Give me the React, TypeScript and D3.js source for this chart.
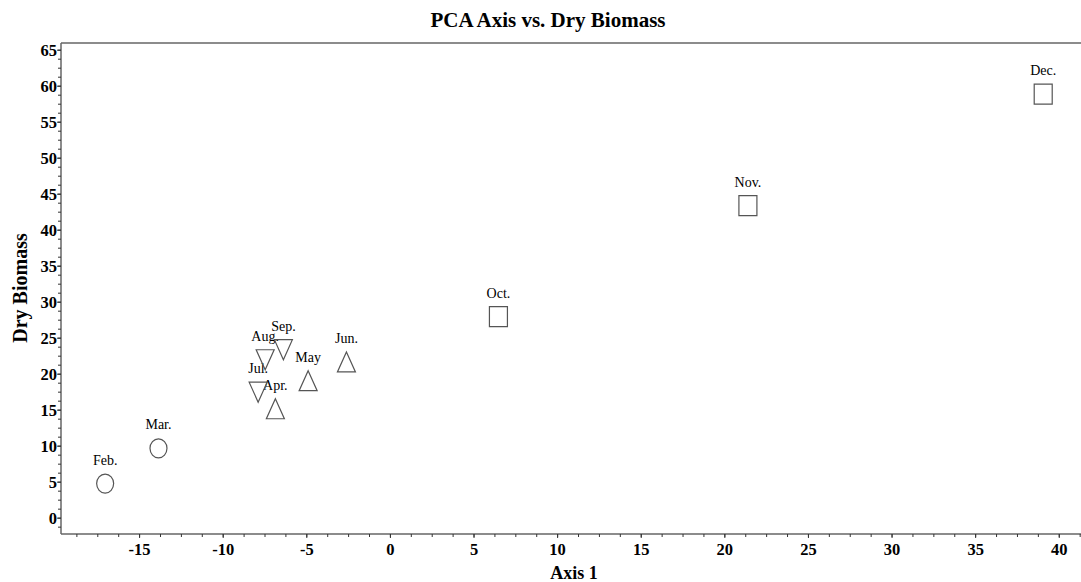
import React from "react";
import * as d3 from "d3";

const months = ["Feb.", "Mar.", "Apr.", "May", "Jun.", "Jul.", "Aug.", "Sep.", "Oct.", "Nov.", "Dec."];
const axis1 = [-17.06, -13.87, -6.88, -4.92, -2.63, -7.91, -7.49, -6.4, 6.46, 21.38, 39.04];
const dryBiomass = [4.8, 9.7, 15.2, 19.1, 21.7, 17.5, 22.0, 23.4, 28.0, 43.4, 58.9];
const shapes = ["circle", "circle", "up", "up", "up", "down", "down", "down", "square", "square", "square"];
const xTicks = [-15, -10, -5, 0, 5, 10, 15, 20, 25, 30, 35, 40];
const yTicks = [0, 5, 10, 15, 20, 25, 30, 35, 40, 45, 50, 55, 60, 65];

const W = 1081;
const H = 582;
const left = 61, right = 1081, top = 43, bottom = 534;

const x = d3.scaleLinear().domain([-19.7, 41.3]).range([left, right]);
const y = d3.scaleLinear().domain([-2.2, 66]).range([bottom, top]);

const xMinor = d3.range(-18.75, 41.26, 1.25);
const yMinor = d3.range(-1.25, 65.01, 1.25);

const serif = "'Liberation Serif', 'Times New Roman', serif";
const stroke = "#555";

function markerPath(shape: string, cx: number, cy: number): string {
  const hw = 9, hh = 10;
  const p = d3.path();
  if (shape === "square") {
    p.rect(cx - hw, cy - hh, hw * 2, hh * 2);
  } else if (shape === "up") {
    p.moveTo(cx, cy - hh);
    p.lineTo(cx + hw, cy + hh);
    p.lineTo(cx - hw, cy + hh);
    p.closePath();
  } else {
    p.moveTo(cx - hw, cy - hh);
    p.lineTo(cx + hw, cy - hh);
    p.lineTo(cx, cy + hh);
    p.closePath();
  }
  return p.toString();
}

export default function App() {
  return (
    <div style={{ position: "absolute", left: 0, top: 0 }}>
      <svg width={W} height={H} style={{ display: "block", background: "#fff" }}>
        <text x={548} y={27} textAnchor="middle" fontFamily={serif} fontWeight="bold" fontSize={21} fill="#000">
          PCA Axis vs. Dry Biomass
        </text>
        {/* frame */}
        <line x1={left} x2={right} y1={top} y2={top} stroke="#666" strokeWidth={1.5} />
        <line x1={left} x2={left} y1={top} y2={bottom} stroke="#666" strokeWidth={1.5} />
        <line x1={left} x2={right} y1={bottom} y2={bottom} stroke="#666" strokeWidth={1.5} />
        {/* x ticks */}
        {xMinor.map((v, i) => (
          <line key={"xm" + i} x1={x(v)} x2={x(v)} y1={bottom} y2={bottom + 3} stroke="#333" strokeWidth={1} />
        ))}
        {xTicks.map((v) => (
          <g key={"xt" + v}>
            <line x1={x(v)} x2={x(v)} y1={bottom} y2={bottom + 4} stroke="#333" strokeWidth={1} />
            <text x={x(v)} y={555} textAnchor="middle" fontFamily={serif} fontWeight="bold" fontSize={16.5} fill="#000">
              {v}
            </text>
          </g>
        ))}
        {/* y ticks */}
        {yMinor.map((v, i) => (
          <line key={"ym" + i} x1={left - 3} x2={left} y1={y(v)} y2={y(v)} stroke="#333" strokeWidth={1} />
        ))}
        {yTicks.map((v) => (
          <g key={"yt" + v}>
            <line x1={left - 4} x2={left} y1={y(v)} y2={y(v)} stroke="#333" strokeWidth={1} />
            <text x={57} y={y(v) + 6} textAnchor="end" fontFamily={serif} fontWeight="bold" fontSize={16.5} fill="#000">
              {v}
            </text>
          </g>
        ))}
        {/* axis titles */}
        <text x={574} y={579} textAnchor="middle" fontFamily={serif} fontWeight="bold" fontSize={18} fill="#000">
          Axis 1
        </text>
        <text
          transform={`translate(27, 288) rotate(-90)`}
          textAnchor="middle"
          fontFamily={serif}
          fontWeight="bold"
          fontSize={20}
          fill="#000"
        >
          Dry Biomass
        </text>
        {/* points */}
        {months.map((m, i) => {
          const cx = x(axis1[i]);
          const cy = y(dryBiomass[i]);
          return (
            <g key={m}>
              {shapes[i] === "circle" ? (
                <ellipse cx={cx} cy={cy} rx={8.5} ry={9.5} fill="none" stroke={stroke} strokeWidth={1.2} />
              ) : (
                <path d={markerPath(shapes[i], cx, cy)} fill="none" stroke={stroke} strokeWidth={1.2} />
              )}
              <text x={cx} y={cy - 19} textAnchor="middle" fontFamily={serif} fontSize={14} fill="#000">
                {m}
              </text>
            </g>
          );
        })}
      </svg>
    </div>
  );
}
